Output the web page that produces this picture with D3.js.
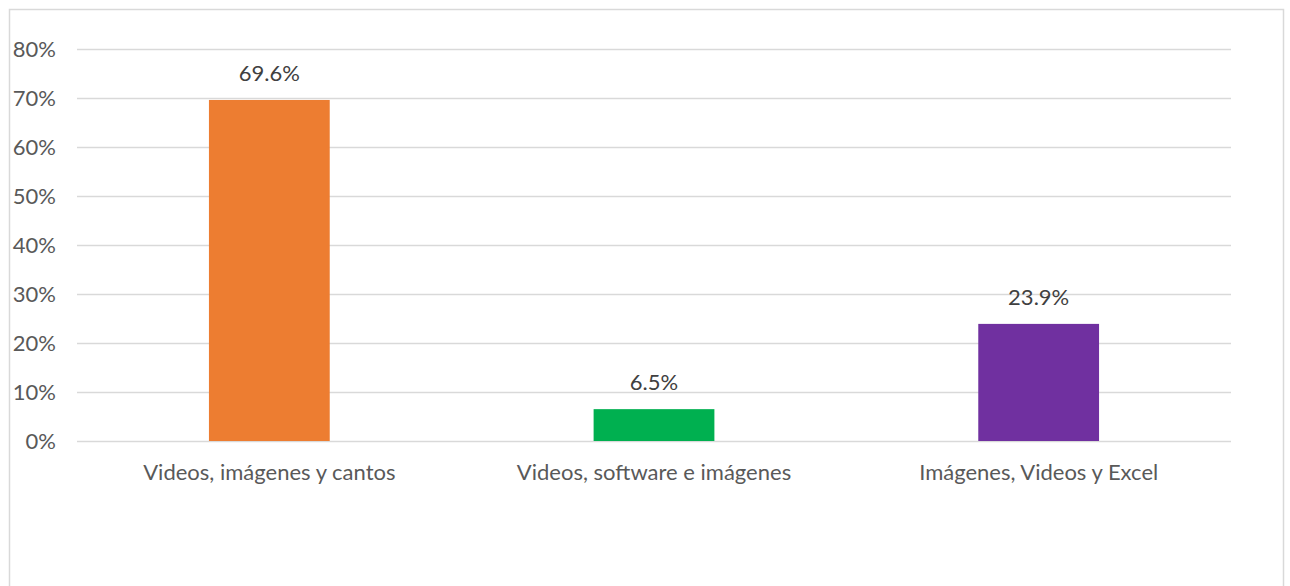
<!DOCTYPE html>
<html>
<head>
<meta charset="utf-8">
<script src="https://cdn.jsdelivr.net/npm/d3@7/dist/d3.min.js"></script>
<style>
  html, body { margin: 0; padding: 0; background: #fff; }
  svg { display: block; }
  text { font-family: Lato, "Open Sans", sans-serif; }
</style>
</head>
<body>
<svg id="chart" width="1290" height="586"></svg>
<script>
// Chart data
const categories = ["Videos, imágenes y cantos", "Videos, software e imágenes", "Imágenes, Videos y Excel"];
const values = [69.6, 6.5, 23.9];
const barColors = ["#ED7D31", "#00B050", "#7030A0"];
const yTicks = [0, 10, 20, 30, 40, 50, 60, 70, 80];

const svg = d3.select("#chart");
const FONT = "22px";

// Outer chart frame
svg.append("rect")
  .attr("x", 9.5).attr("y", 9.5)
  .attr("width", 1274).attr("height", 600)
  .attr("fill", "#fff")
  .attr("stroke", "#d9d9d9").attr("stroke-width", 1.5);

const plot = { left: 77, right: 1231, top: 49, bottom: 441 };

const x = d3.scaleBand()
  .domain(categories)
  .range([plot.left, plot.right])
  .paddingInner(0.686)
  .paddingOuter(0.343);

const y = d3.scaleLinear()
  .domain([0, 80])
  .range([plot.bottom, plot.top]);

// Horizontal gridlines
svg.append("g")
  .selectAll("line")
  .data(yTicks)
  .join("line")
  .attr("x1", plot.left).attr("x2", plot.right)
  .attr("y1", d => Math.round(y(d)) + 0.5)
  .attr("y2", d => Math.round(y(d)) + 0.5)
  .attr("stroke", "#d9d9d9").attr("stroke-width", 1.5);

// Y axis labels
const yAxis = d3.axisLeft(y)
  .tickValues(yTicks)
  .tickFormat(d => d + "%")
  .tickSize(0)
  .tickPadding(21);

const yg = svg.append("g")
  .attr("transform", `translate(${plot.left},0)`)
  .call(yAxis);
yg.select(".domain").remove();
yg.selectAll("text")
  .attr("fill", "#595959")
  .style("font-size", FONT);

// Bars
svg.append("g")
  .selectAll("rect")
  .data(values)
  .join("rect")
  .attr("x", (d, i) => x(categories[i]))
  .attr("width", x.bandwidth())
  .attr("y", d => y(d))
  .attr("height", d => y(0) - y(d))
  .attr("fill", (d, i) => barColors[i]);

// Value labels
svg.append("g")
  .selectAll("text")
  .data(values)
  .join("text")
  .attr("x", (d, i) => x(categories[i]) + x.bandwidth() / 2)
  .attr("y", d => y(d) - 19)
  .attr("text-anchor", "middle")
  .attr("fill", "#404040")
  .style("font-size", FONT)
  .text(d => d.toFixed(1) + "%");

// Category labels
const xAxis = d3.axisBottom(x).tickSize(0).tickPadding(23);
const xg = svg.append("g")
  .attr("transform", `translate(0,${plot.bottom})`)
  .call(xAxis);
xg.select(".domain").remove();
xg.selectAll("text")
  .attr("fill", "#595959")
  .style("font-size", FONT);
</script>
</body>
</html>
